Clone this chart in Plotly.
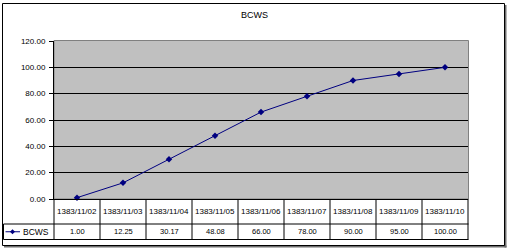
import plotly.graph_objects as go

categories = ["1383/11/02", "1383/11/03", "1383/11/04", "1383/11/05", "1383/11/06",
              "1383/11/07", "1383/11/08", "1383/11/09", "1383/11/10"]
bcws = [1.00, 12.25, 30.17, 48.08, 66.00, 78.00, 90.00, 95.00, 100.00]
series_name = "BCWS"
y_ticks = [0, 20, 40, 60, 80, 100, 120]

W, H = 510, 251
def px(x): return x / W
def py(y): return 1 - y / H

PL, PR, PT, PB = 54, 468, 41, 199   # plot area px
ROW1, ROW2 = 224, 239.5             # table row bottoms
LEG_L = 3.5
NAVY = "#000080"
FONT = "Arial, Liberation Sans, sans-serif"

fig = go.Figure()
fig.add_trace(go.Scatter(
    x=categories, y=bcws, mode="lines+markers", name=series_name,
    line=dict(color=NAVY, width=1),
    marker=dict(symbol="diamond", size=5, color=NAVY),
    showlegend=False, cliponaxis=False,
))

shapes = []
# outer frame shadow + frame
shapes.append(dict(type="line", xref="paper", yref="paper", x0=px(505.5), x1=px(505.5), y0=py(5), y1=py(247.5),
                   line=dict(color="#6f6f6f", width=2)))
shapes.append(dict(type="line", xref="paper", yref="paper", x0=px(4), x1=px(506.5), y0=py(246.5), y1=py(246.5),
                   line=dict(color="#6f6f6f", width=2)))
shapes.append(dict(type="rect", xref="paper", yref="paper", x0=px(2.5), x1=px(504.5), y0=py(3.5), y1=py(245.5),
                   line=dict(color="#000000", width=1), fillcolor="rgba(0,0,0,0)"))
# plot area background/border
shapes.append(dict(type="rect", xref="paper", yref="paper", x0=px(PL), x1=px(PR + 0.5), y0=py(PB), y1=py(PT - 0.5),
                   line=dict(color="#808080", width=1), fillcolor="#C0C0C0", layer="below"))
# table horizontal lines
shapes.append(dict(type="line", xref="paper", yref="paper", x0=px(LEG_L), x1=px(PR + 0.5), y0=py(ROW1), y1=py(ROW1),
                   line=dict(color="#000000", width=1)))
shapes.append(dict(type="line", xref="paper", yref="paper", x0=px(LEG_L), x1=px(PR + 0.5), y0=py(ROW2), y1=py(ROW2),
                   line=dict(color="#000000", width=1)))
# vertical lines
n = len(categories)
colw = (PR - PL) / n
for k in range(n + 1):
    xx = PL + k * colw
    shapes.append(dict(type="line", xref="paper", yref="paper", x0=px(xx), x1=px(xx), y0=py(PB), y1=py(ROW2),
                       line=dict(color="#000000", width=1)))
shapes.append(dict(type="line", xref="paper", yref="paper", x0=px(LEG_L), x1=px(LEG_L), y0=py(ROW1), y1=py(ROW2),
                   line=dict(color="#000000", width=1)))
# legend key
ky = (ROW1 + ROW2) / 2
shapes.append(dict(type="line", xref="paper", yref="paper", x0=px(5.5), x1=px(20), y0=py(ky), y1=py(ky),
                   line=dict(color=NAVY, width=1)))
cx, cy, r = 12.5, ky, 2.5
shapes.append(dict(type="path", xref="paper", yref="paper",
                   path=f"M {px(cx - r)} {py(cy)} L {px(cx)} {py(cy - r)} L {px(cx + r)} {py(cy)} L {px(cx)} {py(cy + r)} Z",
                   fillcolor=NAVY, line=dict(color=NAVY, width=0)))

annotations = []
annotations.append(dict(text="BCWS", x=px(254), y=py(15), xref="paper", yref="paper", showarrow=False,
                        font=dict(family=FONT, size=9, color="#000"), xanchor="center", yanchor="middle"))
for c, v in zip(categories, bcws):
    annotations.append(dict(text=c, x=c, xref="x", y=py((PB + ROW1) / 2), yref="paper", showarrow=False,
                            font=dict(family=FONT, size=8, color="#000"), xanchor="center", yanchor="middle"))
    annotations.append(dict(text=f"{v:.2f}", x=c, xref="x", y=py(ky), yref="paper", showarrow=False,
                            font=dict(family=FONT, size=7.5, color="#000"), xanchor="center", yanchor="middle"))
annotations.append(dict(text=series_name, x=px(35.5), y=py(ky), xref="paper", yref="paper", showarrow=False,
                        font=dict(family=FONT, size=8.5, color="#000"), xanchor="center", yanchor="middle"))

fig.update_layout(
    width=W, height=H, margin=dict(l=0, r=0, t=0, b=0),
    paper_bgcolor="#FFFFFF", plot_bgcolor="#C0C0C0",
    shapes=shapes, annotations=annotations, showlegend=False,
    xaxis=dict(type="category", domain=[px(PL), px(PR)], range=[-0.5, n - 0.5],
               showticklabels=False, ticks="", showgrid=False, zeroline=False,
               showline=True, linecolor="#000000", linewidth=1, automargin=False, fixedrange=True),
    yaxis=dict(domain=[py(PB), py(PT)], range=[0, 120], tickvals=y_ticks, tickformat=".2f",
               ticks="outside", ticklen=4, tickcolor="#000000", tickwidth=1,
               tickfont=dict(family=FONT, size=8, color="#000"),
               showgrid=True, gridcolor="#000000", gridwidth=1, zeroline=False,
               showline=True, linecolor="#000000", linewidth=1, automargin=False, fixedrange=True,
               ticklabelstandoff=2),
)
fig.write_html("out.html")
